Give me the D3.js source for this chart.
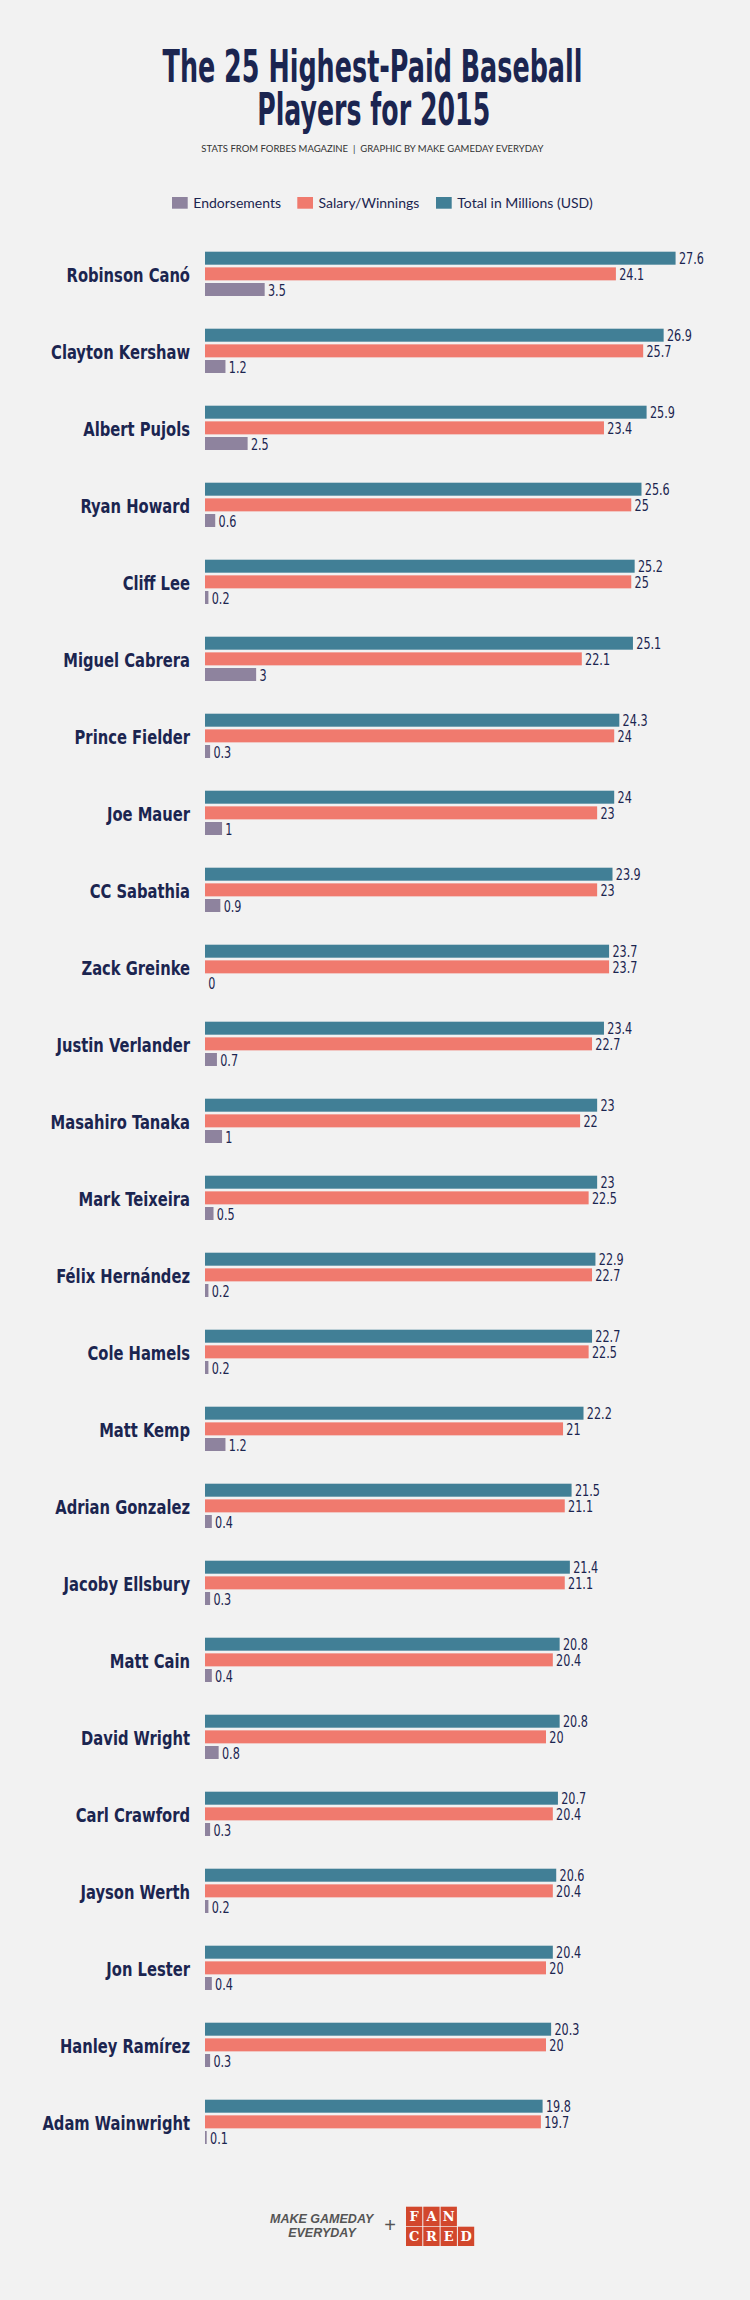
<!DOCTYPE html>
<html>
<head>
<meta charset="utf-8">
<script src="https://cdn.jsdelivr.net/npm/d3@7"></script>
<style>
  body { margin: 0; background: #f2f2f2; }
  svg { display: block; }
</style>
</head>
<body>
<div id="chart"></div>
<script>
// data (millions USD)
var players = ["Robinson Canó", "Clayton Kershaw", "Albert Pujols", "Ryan Howard", "Cliff Lee",
  "Miguel Cabrera", "Prince Fielder", "Joe Mauer", "CC Sabathia", "Zack Greinke",
  "Justin Verlander", "Masahiro Tanaka", "Mark Teixeira", "Félix Hernández", "Cole Hamels",
  "Matt Kemp", "Adrian Gonzalez", "Jacoby Ellsbury", "Matt Cain", "David Wright",
  "Carl Crawford", "Jayson Werth", "Jon Lester", "Hanley Ramírez", "Adam Wainwright"];
var totals = [27.6, 26.9, 25.9, 25.6, 25.2, 25.1, 24.3, 24, 23.9, 23.7, 23.4, 23, 23, 22.9, 22.7,
  22.2, 21.5, 21.4, 20.8, 20.8, 20.7, 20.6, 20.4, 20.3, 19.8];
var salaries = [24.1, 25.7, 23.4, 25, 25, 22.1, 24, 23, 23, 23.7, 22.7, 22, 22.5, 22.7, 22.5,
  21, 21.1, 21.1, 20.4, 20, 20.4, 20.4, 20, 20, 19.7];
var endorsements = [3.5, 1.2, 2.5, 0.6, 0.2, 3, 0.3, 1, 0.9, 0, 0.7, 1, 0.5, 0.2, 0.2,
  1.2, 0.4, 0.3, 0.4, 0.8, 0.3, 0.2, 0.4, 0.3, 0.1];
var seriesKeys = ["total", "salary", "endorse"];
var legendKeys = ["endorse", "salary", "total"];
var legendLabels = ["Endorsements", "Salary/Winnings", "Total in Millions (USD)"];

var width = 750, height = 2300;
var navy = "#1b2550";
var narrow = "'Liberation Sans Narrow', 'DejaVu Sans Condensed', sans-serif";
var color = d3.scaleOrdinal()
  .domain(seriesKeys)
  .range(["#417f96", "#f07a6e", "#8e839e"]);

var rows = players.map(function (p, i) {
  return { name: p, total: totals[i], salary: salaries[i], endorse: endorsements[i] };
});

var svg = d3.select("#chart").append("svg")
  .attr("width", width)
  .attr("height", height);

svg.append("rect").attr("width", width).attr("height", height).attr("fill", "#f2f2f2");

// squeeze a centred text horizontally so it spans the wanted width
function fitText(sel, cx, cy, wanted) {
  var len = sel.node().getComputedTextLength();
  var k = Math.min(1, wanted / len);
  sel.attr("text-anchor", "middle")
    .attr("transform", "translate(" + cx + "," + cy + ") scale(" + k + ",1)");
}

// title
var t1 = svg.append("text").attr("fill", navy)
  .attr("font-family", narrow).attr("font-weight", "bold").attr("font-size", 45)
  .text("The 25 Highest-Paid Baseball");
fitText(t1, 372.5, 82, 420);
var t2 = svg.append("text").attr("fill", navy)
  .attr("font-family", narrow).attr("font-weight", "bold").attr("font-size", 45)
  .text("Players for 2015");
fitText(t2, 373.7, 125, 233);
var sub = svg.append("text")
  .attr("font-family", "Lato, sans-serif").attr("font-size", 9.5).attr("fill", "#333")
  .attr("xml:space", "preserve")
  .text("STATS FROM FORBES MAGAZINE  |  GRAPHIC BY MAKE GAMEDAY EVERYDAY");
fitText(sub, 372.4, 151.7, 353);

// legend
var legendX = [172, 297.3, 436];
var legend = svg.append("g").selectAll("g")
  .data(legendKeys)
  .join("g")
  .attr("transform", function (d, i) { return "translate(" + legendX[i] + ",197)"; });
legend.append("rect").attr("width", 15.7).attr("height", 11.7).attr("fill", function (d) { return color(d); });
legend.append("text").attr("x", 21.3).attr("y", 11.3)
  .attr("font-family", "Lato, sans-serif").attr("font-size", 14).attr("fill", navy)
  .text(function (d, i) { return legendLabels[i]; });

// scales
var x = d3.scaleLinear().domain([0, 30]).range([205, 716.5]);
var y = d3.scaleBand().domain(players).range([251.7, 251.7 + 77 * players.length]);
var ySub = d3.scaleBand().domain(seriesKeys).range([0, 44.3]).paddingInner(0.17);

var groups = svg.append("g").selectAll("g")
  .data(rows)
  .join("g")
  .attr("transform", function (d) { return "translate(0," + y(d.name) + ")"; });

groups.append("text")
  .attr("transform", "translate(190,30.3) scale(0.82,1)")
  .attr("text-anchor", "end")
  .attr("font-family", narrow)
  .attr("font-weight", "bold").attr("font-size", 20).attr("fill", navy)
  .text(function (d) { return d.name; });

var bars = groups.selectAll("g.bar")
  .data(function (d) { return seriesKeys.map(function (k) { return { key: k, value: d[k] }; }); })
  .join("g").attr("class", "bar");

bars.append("rect")
  .attr("x", x(0))
  .attr("y", function (d) { return ySub(d.key); })
  .attr("width", function (d) { return x(d.value) - x(0); })
  .attr("height", ySub.bandwidth())
  .attr("fill", function (d) { return color(d.key); });

bars.append("text")
  .attr("transform", function (d) {
    return "translate(" + (x(d.value) + 3.3) + "," + (ySub(d.key) + ySub.bandwidth() - 0.5) + ") scale(0.78,1)";
  })
  .attr("font-family", narrow)
  .attr("font-size", 16).attr("fill", navy)
  .text(function (d) { return String(d.value); });

// footer logos
var foot = svg.append("g");
var m1 = foot.append("text")
  .attr("font-family", "'Liberation Sans', sans-serif").attr("font-weight", "bold")
  .attr("font-style", "italic").attr("font-size", 12.5).attr("fill", "#555")
  .text("MAKE GAMEDAY");
fitText(m1, 321.7, 2223.3, 110);
var m2 = foot.append("text")
  .attr("font-family", "'Liberation Sans', sans-serif").attr("font-weight", "bold")
  .attr("font-style", "italic").attr("font-size", 12.5).attr("fill", "#555")
  .text("EVERYDAY");
fitText(m2, 322, 2237.3, 70.6);
foot.append("text").attr("x", 390).attr("y", 2232).attr("text-anchor", "middle")
  .attr("font-family", "'Liberation Sans', sans-serif").attr("font-size", 20).attr("fill", "#555")
  .text("+");

var logoRows = [["F", "A", "N"], ["C", "R", "E", "D"]];
logoRows.forEach(function (letters, r) {
  var g = foot.append("g").attr("transform", "translate(406," + (2206.7 + r * 20) + ")");
  var cells = g.selectAll("g").data(letters).join("g")
    .attr("transform", function (d, i) { return "translate(" + (i * 17.3) + ",0)"; });
  cells.append("rect").attr("width", 16.3).attr("height", 19.3).attr("fill", "#d2472c");
  cells.append("text").attr("x", 8.15).attr("y", 14.5).attr("text-anchor", "middle")
    .attr("font-family", "'DejaVu Serif', serif").attr("font-weight", "bold")
    .attr("font-size", 13).attr("fill", "#fff")
    .text(function (d) { return d; });
});
</script>
</body>
</html>
